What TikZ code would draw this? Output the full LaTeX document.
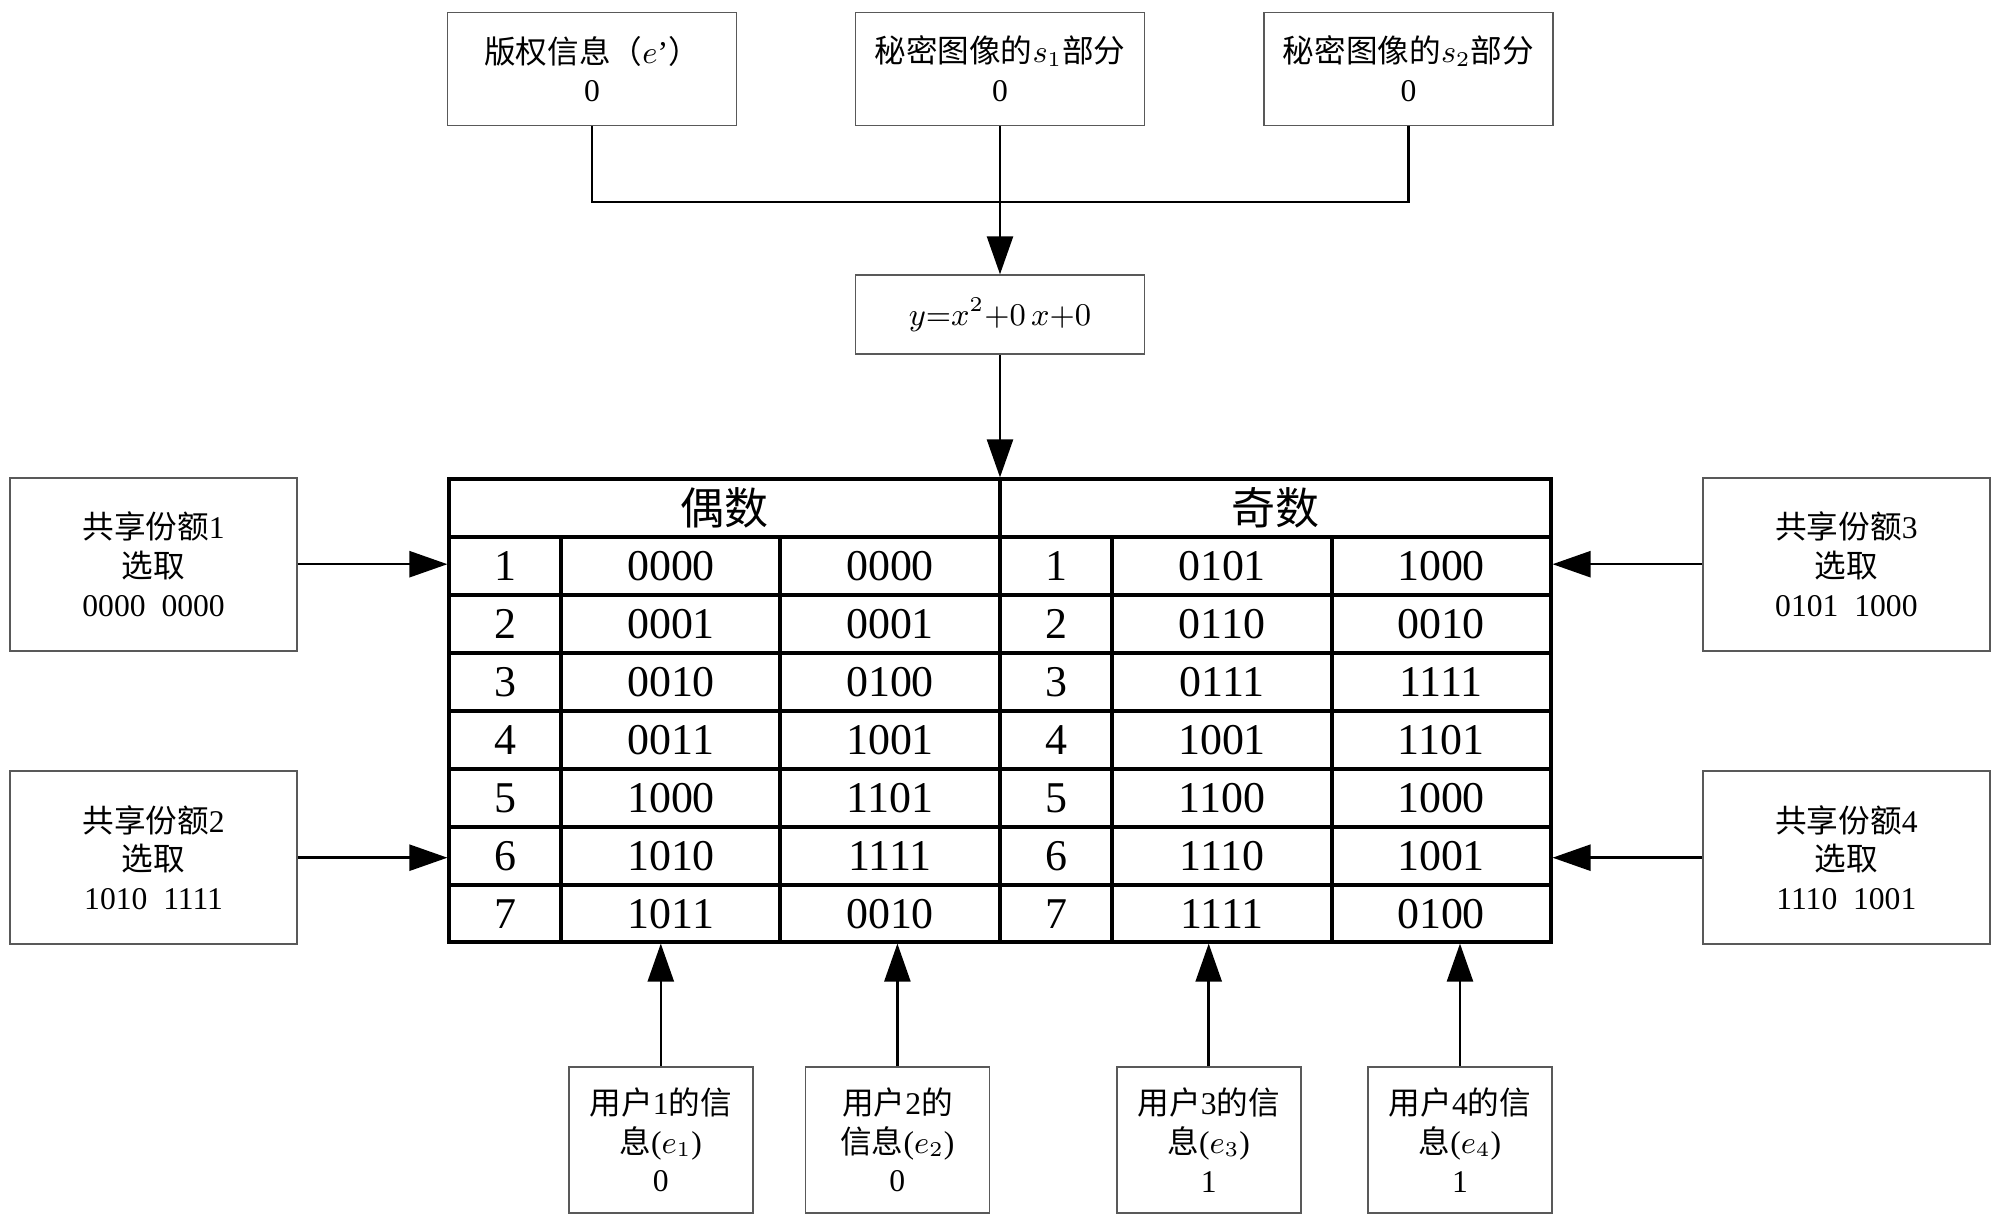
\documentclass[tikz,border=0pt]{standalone}
\usepackage{fontspec}
\setmainfont{Liberation Serif}
\newfontfamily\cjk{Noto Sans CJK SC}
\usepackage{tikz}
\usetikzlibrary{arrows.meta}
\def\cn#1{{\cjk #1}}

\begin{document}
\begin{tikzpicture}[x=0.1mm, y=-0.1mm,
	infobox/.style={draw=black!65, line width=0.5pt, align=center, inner sep=0pt, font=\fontsize{9}{11}\selectfont},
	cell/.style={inner sep=0pt, font=\fontsize{12.5}{14}\selectfont},
	arr/.style={line width=0.7pt, -{Triangle[length=3.8mm,width=2.6mm]}}]
			%%%%% START %%%%%
			\useasboundingbox (0,0) rectangle (2000,1223);
			
			\node[infobox, minimum width=28.9mm, minimum height=11.3mm] (c1) at (592, 69) {\cn{版权信息（}$e$’\cn{）}\\0};
			\node[infobox, minimum width=28.9mm, minimum height=11.3mm] (c2) at (1000, 69) {\cn{秘密图像的}$s_1$\cn{部分}\\0};
			\node[infobox, minimum width=28.9mm, minimum height=11.3mm] (c3) at (1408.5, 69) {\cn{秘密图像的}$s_2$\cn{部分}\\0};
			\coordinate (bus) at (1000, 202);
			
			\node[infobox, minimum width=28.9mm, minimum height=7.9mm] (f) at (1000, 314.7) {$y{=}x^{2}{+}0\,x{+}0$};
			
			\draw[line width=0.8pt] (c1.south) |- (bus) -| (c3.south);
			\draw[arr] (c2.south) -- (f.north);
			
			% table
			\node[draw, line width=0.9pt, minimum width=110.2mm, minimum height=46.3mm, inner sep=0pt] (tab) at (1000, 710.5) {};
			\node[cell] (even) at (724.5, 508) {\cn{偶数}};
			\node[cell] (odd) at (1275.5, 508) {\cn{奇数}};
			\draw[line width=0.9pt] (449, 537) -- (1551, 537);
			\foreach \k in {1,...,6}
				\draw[line width=0.9pt] (449, 537+58*\k) -- (1551, 537+58*\k);
			\draw[line width=0.9pt] (1000, 479) -- (1000, 942);
			\foreach \xx in {561, 780, 1112, 1332}
				\draw[line width=0.9pt] (\xx, 537) -- (\xx, 942);
			\foreach \n/\a/\b/\c/\d [count=\k] in {1/0000/0000/0101/1000, 2/0001/0001/0110/0010, 3/0010/0100/0111/1111, 4/0011/1001/1001/1101, 5/1000/1101/1100/1000, 6/1010/1111/1110/1001, 7/1011/0010/1111/0100} {
				\node[cell] (ln\k) at (505, 508+58*\k) {\n};
				\node[cell] (la\k) at (671, 508+58*\k) {\a};
				\node[cell] (lb\k) at (890, 508+58*\k) {\b};
				\node[cell] (rn\k) at (1056, 508+58*\k) {\n};
				\node[cell] (ra\k) at (1222, 508+58*\k) {\c};
				\node[cell] (rb\k) at (1441, 508+58*\k) {\d};
			}
			\draw[arr] (f.south) -- (f.south |- tab.north);
			
			% shares
			\node[infobox, minimum width=28.7mm, minimum height=17.3mm] (sh1) at (153.6, 564.2) {\cn{共享份额}1\\\cn{选取}\\0000\ \ 0000};
			\node[infobox, minimum width=28.7mm, minimum height=17.3mm] (sh2) at (153.6, 857.7) {\cn{共享份额}2\\\cn{选取}\\1010\ \ 1111};
			\node[infobox, minimum width=28.7mm, minimum height=17.3mm] (sh3) at (1846.4, 564.2) {\cn{共享份额}3\\\cn{选取}\\0101\ \ 1000};
			\node[infobox, minimum width=28.7mm, minimum height=17.3mm] (sh4) at (1846.4, 857.7) {\cn{共享份额}4\\\cn{选取}\\1110\ \ 1001};
			\draw[arr] (sh1.east) -- (sh1.east -| tab.west);
			\draw[arr] (sh2.east) -- (sh2.east -| tab.west);
			\draw[arr] (sh3.west) -- (sh3.west -| tab.east);
			\draw[arr] (sh4.west) -- (sh4.west -| tab.east);
			
			% users
			\node[infobox, minimum width=18.4mm, minimum height=14.6mm] (u1) at (660.8, 1140) {\cn{用户}1\cn{的信}\\\cn{息}($e_1$)\\0};
			\node[infobox, minimum width=18.4mm, minimum height=14.6mm] (u2) at (897.4, 1140) {\cn{用户}2\cn{的}\\\cn{信息}($e_2$)\\0};
			\node[infobox, minimum width=18.4mm, minimum height=14.6mm] (u3) at (1208.7, 1140) {\cn{用户}3\cn{的信}\\\cn{息}($e_3$)\\1};
			\node[infobox, minimum width=18.4mm, minimum height=14.6mm] (u4) at (1460, 1140) {\cn{用户}4\cn{的信}\\\cn{息}($e_4$)\\1};
			\draw[arr] (u1.north) -- (u1.north |- tab.south);
			\draw[arr] (u2.north) -- (u2.north |- tab.south);
			\draw[arr] (u3.north) -- (u3.north |- tab.south);
			\draw[arr] (u4.north) -- (u4.north |- tab.south);
			
			%%%%% END %%%%%
\end{tikzpicture}
\end{document}
